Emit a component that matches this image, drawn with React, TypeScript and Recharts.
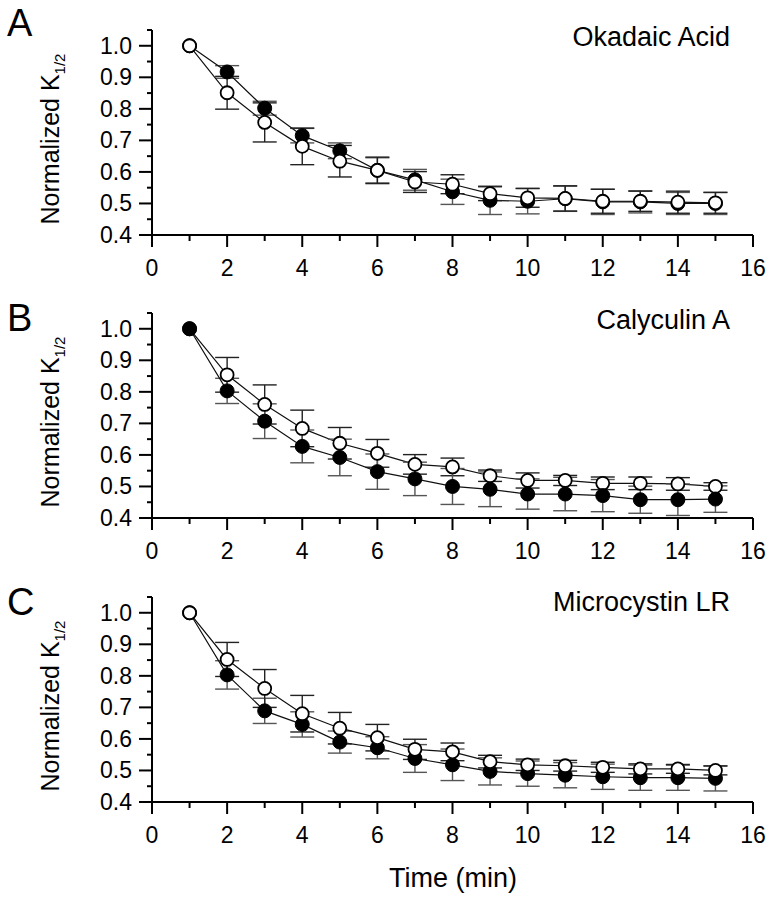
import { LineChart, Line, XAxis, YAxis, ErrorBar } from 'recharts';

// time points (min)
const times = [1, 2, 3, 4, 5, 6, 7, 8, 9, 10, 11, 12, 13, 14, 15];

// A: Okadaic Acid
const okOpen = [1.0, 0.851, 0.757, 0.681, 0.634, 0.605, 0.568, 0.561, 0.531, 0.518, 0.516, 0.507, 0.507, 0.504, 0.502];
const okOpenErr = [0, 0.052, 0.062, 0.058, 0.05, 0.042, 0.033, 0.03, 0.022, 0.03, 0.04, 0.038, 0.032, 0.035, 0.033];
const okFilled = [1.0, 0.917, 0.802, 0.715, 0.667, 0.605, 0.575, 0.537, 0.51, 0.507, 0.515, 0.505, 0.505, 0.5, 0.5];
const okFilledErr = [0, 0.02, 0.022, 0.023, 0.025, 0.04, 0.033, 0.04, 0.045, 0.04, 0.04, 0.04, 0.035, 0.035, 0.035];

// B: Calyculin A
const caOpen = [1.0, 0.854, 0.76, 0.684, 0.637, 0.605, 0.57, 0.562, 0.534, 0.519, 0.519, 0.51, 0.51, 0.508, 0.5];
const caOpenErr = [0, 0.055, 0.062, 0.058, 0.05, 0.044, 0.031, 0.028, 0.018, 0.024, 0.016, 0.02, 0.02, 0.02, 0.012];
const caFilled = [1.0, 0.803, 0.707, 0.627, 0.592, 0.547, 0.524, 0.5, 0.491, 0.476, 0.476, 0.471, 0.458, 0.458, 0.46];
const caFilledErr = [0, 0.04, 0.055, 0.052, 0.058, 0.056, 0.053, 0.057, 0.055, 0.048, 0.053, 0.051, 0.043, 0.05, 0.042];

// C: Microcystin LR
const mcOpen = [1.0, 0.852, 0.76, 0.68, 0.634, 0.604, 0.567, 0.559, 0.528, 0.518, 0.515, 0.51, 0.505, 0.505, 0.5];
const mcOpenErr = [0, 0.054, 0.06, 0.058, 0.05, 0.042, 0.032, 0.028, 0.02, 0.018, 0.017, 0.016, 0.016, 0.014, 0.014];
const mcFilled = [1.0, 0.803, 0.689, 0.646, 0.59, 0.572, 0.538, 0.518, 0.497, 0.49, 0.485, 0.48, 0.477, 0.477, 0.475];
const mcFilledErr = [0, 0.045, 0.04, 0.04, 0.035, 0.035, 0.044, 0.05, 0.043, 0.04, 0.04, 0.04, 0.04, 0.04, 0.04];

const xTicks = [0, 1, 2, 3, 4, 5, 6, 7, 8, 9, 10, 11, 12, 13, 14, 15, 16];
const yTicks = [0.4, 0.45, 0.5, 0.55, 0.6, 0.65, 0.7, 0.75, 0.8, 0.85, 0.9, 0.95, 1.0, 1.05];

const FONT = '"Liberation Sans", Arial, sans-serif';
const W = 773;
const H = 290;

function build(open: number[], openErr: number[], filled: number[], filledErr: number[]) {
  return times.map((t, i) => ({
    t,
    open: open[i],
    openErr: openErr[i],
    filled: filled[i],
    filledErr: filledErr[i],
  }));
}

const XTick = (props: any) => {
  const { x, y, payload } = props;
  const major = payload.value % 2 === 0;
  return (
    <g>
      <line x1={x} x2={x} y1={y} y2={y + (major ? 12 : 6)} stroke="#000" strokeWidth={2} />
      {major && (
        <text x={x} y={y + 41} textAnchor="middle" fontSize={23} fontFamily={FONT} fill="#000">
          {payload.value}
        </text>
      )}
    </g>
  );
};

const YTick = (props: any) => {
  const { x, y, payload } = props;
  const v = Math.round(payload.value * 100);
  const major = v % 10 === 0;
  return (
    <g>
      <line x1={x} x2={x - (major ? 13 : 5)} y1={y} y2={y} stroke="#000" strokeWidth={2} />
      {major && (
        <text x={x - 20} y={y + 8} textAnchor="end" fontSize={23} fontFamily={FONT} fill="#000">
          {(v / 100).toFixed(1)}
        </text>
      )}
    </g>
  );
};

function Panel({ data, filledOnTop }: { data: any[]; filledOnTop: boolean }) {
  const openLine = (
    <Line
      key="open"
      dataKey="open"
      stroke="#111"
      strokeWidth={1.2}
      dot={{ r: 6.5, fill: '#fff', stroke: '#000', strokeWidth: 1.8 }}
      activeDot={false}
      isAnimationActive={false}
    >
      <ErrorBar dataKey="openErr" width={12} stroke="#222" strokeWidth={1.4} direction="y" isAnimationActive={false} />
    </Line>
  );
  const filledLine = (
    <Line
      key="filled"
      dataKey="filled"
      stroke="#111"
      strokeWidth={1.2}
      dot={{ r: 7, fill: '#000', stroke: '#000', strokeWidth: 1 }}
      activeDot={false}
      isAnimationActive={false}
    >
      <ErrorBar dataKey="filledErr" width={12} stroke="#555" strokeWidth={1.4} direction="y" isAnimationActive={false} />
    </Line>
  );
  return (
    <LineChart width={W} height={H} data={data} margin={{ top: 30, right: 20, bottom: 25, left: 92 }}>
      <XAxis
        dataKey="t"
        type="number"
        domain={[0, 16]}
        ticks={xTicks}
        height={30}
        tickSize={0}
        tickMargin={0}
        tickLine={false}
        axisLine={{ stroke: '#000', strokeWidth: 2 }}
        tick={<XTick />}
        interval={0}
      />
      <YAxis
        type="number"
        domain={[0.4, 1.05]}
        ticks={yTicks}
        width={60}
        tickSize={0}
        tickMargin={0}
        tickLine={false}
        axisLine={{ stroke: '#000', strokeWidth: 2 }}
        tick={<YTick />}
        interval={0}
        allowDataOverflow
      />
      {filledOnTop ? [openLine, filledLine] : [filledLine, openLine]}
    </LineChart>
  );
}

const panels = [
  { top: 0, letter: 'A', letterY: 36, title: 'Okadaic Acid', titleY: 46, data: build(okOpen, okOpenErr, okFilled, okFilledErr), filledOnTop: false },
  { top: 283, letter: 'B', letterY: 331, title: 'Calyculin A', titleY: 329, data: build(caOpen, caOpenErr, caFilled, caFilledErr), filledOnTop: true },
  { top: 567, letter: 'C', letterY: 615, title: 'Microcystin LR', titleY: 611, data: build(mcOpen, mcOpenErr, mcFilled, mcFilledErr), filledOnTop: false },
];

export default function App() {
  return (
    <div style={{ position: 'absolute', left: 0, top: 0, width: W, height: 900, background: '#fff', fontFamily: FONT }}>
      {panels.map((p) => (
        <div key={p.letter} style={{ position: 'absolute', left: 0, top: p.top }}>
          <Panel data={p.data} filledOnTop={p.filledOnTop} />
        </div>
      ))}
      <svg width={W} height={900} style={{ position: 'absolute', left: 0, top: 0, pointerEvents: 'none' }}>
        {panels.map((p) => {
          const cy = p.top + 30 + 102 + 7;
          return (
            <g key={p.letter} fontFamily={FONT} fill="#000">
              <text x={7} y={p.letterY} fontSize={38}>{p.letter}</text>
              <text x={730} y={p.titleY} fontSize={27} textAnchor="end">{p.title}</text>
              <text x={59} y={cy} fontSize={25} textAnchor="middle" transform={`rotate(-90 59 ${cy})`}>
                <tspan>Normalized K</tspan>
                <tspan fontSize={15} dy={6}>1/2</tspan>
              </text>
            </g>
          );
        })}
        <text x={453} y={887} fontSize={27} textAnchor="middle" fontFamily={FONT} fill="#000">Time (min)</text>
      </svg>
    </div>
  );
}
